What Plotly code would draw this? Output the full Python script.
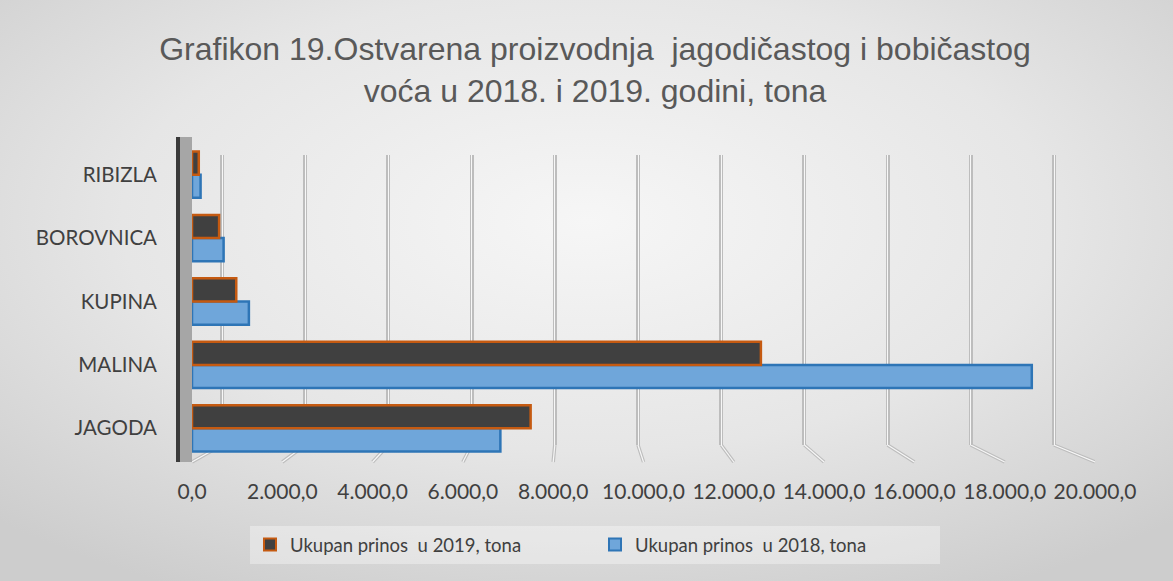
import base64
import plotly.graph_objects as go

categories = ["JAGODA", "MALINA", "KUPINA", "BOROVNICA", "RIBIZLA"]
prinos_2019 = [7500, 12600, 980, 600, 150]
prinos_2018 = [6830, 18600, 1260, 700, 190]
tick_vals = [0, 2000, 4000, 6000, 8000, 10000, 12000, 14000, 16000, 18000, 20000]
name_2019 = "Ukupan prinos\u00a0 u 2019, tona"
name_2018 = "Ukupan prinos\u00a0 u 2018, tona"
title_text = ("Grafikon 19.Ostvarena proizvodnja\u00a0 jagodičastog i bobičastog<br>"
              "voća u 2018. i 2019. godini, tona")

W, H = 1173, 581
ML, MR, MT, MB = 192, 78, 143, 121
PW, PH = W - ML - MR, H - MT - MB

svg = f'''<svg xmlns="http://www.w3.org/2000/svg" width="{W}" height="{H}" viewBox="0 0 {W} {H}" preserveAspectRatio="none">
<defs><radialGradient id="g" cx="50%" cy="38%" r="72%">
<stop offset="0" stop-color="#F6F6F6"/><stop offset="0.55" stop-color="#E6E6E6"/><stop offset="1" stop-color="#CDCDCD"/>
</radialGradient></defs><rect x="0" y="0" width="{W}" height="{H}" fill="url(#g)"/></svg>'''
bg_src = "data:image/svg+xml;base64," + base64.b64encode(svg.encode()).decode()

fig = go.Figure()

# invisible helper traces for the back-wall grid axes
fig.add_trace(go.Scatter(x=[0], y=[0], xaxis="x", yaxis="y", mode="none",
                         showlegend=False, hoverinfo="skip"))
fig.add_trace(go.Scatter(x=[0], y=[0], xaxis="x2", yaxis="y2", mode="none",
                         showlegend=False, hoverinfo="skip"))

fig.add_trace(go.Bar(
    y=categories, x=prinos_2018, name=name_2018, orientation="h",
    xaxis="x3", yaxis="y3",
    marker=dict(color="#6FA6DA", line=dict(color="#2E75B6", width=2.5)),
))
fig.add_trace(go.Bar(
    y=categories, x=prinos_2019, name=name_2019, orientation="h",
    xaxis="x3", yaxis="y3",
    marker=dict(color="#404040", line=dict(color="#C55A11", width=2.5)),
))

# back-wall grid: 0 at px 222, 20000 at px 1054
back_per_unit = (1054 - 222) / 20000.0
g0 = (ML - 222) / back_per_unit
g1 = (ML + PW - 222) / back_per_unit
grid_bottom = (MT + PH - 445) / PH
grid_top = (MT + PH - 155) / PH
grid_dom = [grid_bottom, grid_top]

# floor "feet" of the grid lines: from back-wall position down to the front label position
shapes = []
for v in tick_vals:
    front_units = (ML + v / 20000.0 * PW - 222) / back_per_unit
    for col, wd in (("#BDBDBD", 3.5), ("#F7F7F7", 1.2)):
        shapes.append(dict(type="line", xref="x", yref="paper",
                           x0=v, y0=grid_bottom, x1=front_units, y1=-2 / PH,
                           line=dict(color=col, width=wd), layer="below"))
shapes += [
    dict(type="rect", xref="paper", yref="paper",
         x0=(180 - ML) / PW, x1=0, y0=-2 / PH, y1=1 + 6 / PH,
         fillcolor="#A6A6A6", line=dict(width=0), layer="below"),
    dict(type="rect", xref="paper", yref="paper",
         x0=(176 - ML) / PW, x1=(180 - ML) / PW, y0=-2 / PH, y1=1 + 6 / PH,
         fillcolor="#3A3A3A", line=dict(width=0), layer="below"),
]

fig.update_layout(
    width=W, height=H,
    margin=dict(l=ML, r=MR, t=MT, b=MB, autoexpand=False),
    paper_bgcolor="#E2E2E2",
    plot_bgcolor="rgba(0,0,0,0)",
    separators=",.",
    barmode="group", bargap=0.27, bargroupgap=0.0,
    title=dict(text=title_text, x=595 / W, xref="container", xanchor="center",
               y=1 - 60 / H, yref="container", yanchor="top",
               font=dict(family="Liberation Sans, Arial", size=32, color="#595959")),
    xaxis=dict(domain=[0, 1], range=[g0, g1], anchor="y", tickvals=tick_vals,
               showgrid=True, gridcolor="#BDBDBD", gridwidth=3.5,
               showticklabels=False, zeroline=False, showline=False),
    yaxis=dict(domain=grid_dom, anchor="x", visible=False, range=[0, 1]),
    xaxis2=dict(domain=[0, 1], range=[g0, g1], anchor="y2", tickvals=tick_vals,
                showgrid=True, gridcolor="#F7F7F7", gridwidth=1.2,
                showticklabels=False, zeroline=False, showline=False),
    yaxis2=dict(domain=grid_dom, anchor="x2", visible=False, range=[0, 1]),
    xaxis3=dict(domain=[0, 1], anchor="y3", range=[0, 20000], tickvals=tick_vals,
                tickformat=",.1f", showgrid=False, zeroline=False, showline=False,
                ticklabelstandoff=17, automargin=False,
                tickfont=dict(family="Lato", size=21, color="#404040")),
    yaxis3=dict(domain=[0, 1], anchor="x3", type="category",
                categoryorder="array", categoryarray=categories,
                showgrid=False, zeroline=False, showline=False,
                ticklabelstandoff=34, automargin=False,
                tickfont=dict(family="Lato", size=20.5, color="#404040")),
    legend=dict(orientation="h", traceorder="reversed",
                x=(595 - ML) / PW, xanchor="center",
                y=-(545 - (MT + PH)) / PH, yanchor="middle",
                entrywidth=300, bgcolor="rgba(255,255,255,0.35)",
                borderwidth=0, itemsizing="constant",
                font=dict(family="Lato", size=18.5, color="#404040")),
    images=[dict(source=bg_src, xref="paper", yref="paper",
                 x=-ML / PW, y=1 + MT / PH, sizex=W / PW, sizey=H / PH,
                 xanchor="left", yanchor="top", sizing="stretch", layer="below")],
    shapes=shapes,
)

fig.write_html("out.html", config={"displayModeBar": False},
               post_script="document.body.style.margin='0';document.body.style.overflow='hidden';")
